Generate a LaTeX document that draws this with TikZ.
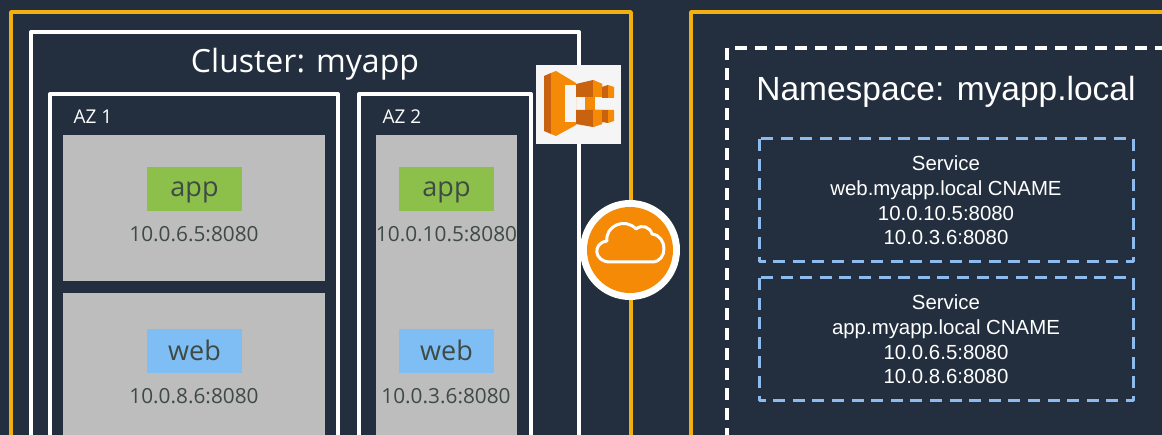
\documentclass[tikz,border=0pt]{standalone}
\usepackage{fontspec}
\setmainfont{Liberation Sans}
\newfontfamily\emberfont{Open Sans}
\definecolor{slatebg}{HTML}{232F3E}
\definecolor{framegold}{HTML}{F2B010}
\definecolor{boxgrey}{HTML}{BDBDBD}
\definecolor{appgreen}{HTML}{8CC04B}
\definecolor{webblue}{HTML}{7FBDF5}
\definecolor{labelgrey}{HTML}{3F4A45}
\definecolor{awsorange}{HTML}{F58A07}
\definecolor{awsdark}{HTML}{C8620F}
\definecolor{dashblue}{HTML}{8DBBEE}
\definecolor{iconbg}{HTML}{F5F5F5}
\tikzset{
  goldframe/.style={draw=framegold, line width=3.5pt},
  whiteframe/.style={draw=white, line width=4pt},
  hostbox/.style={fill=boxgrey},
  tagbox/.style={minimum width=95pt, minimum height=44pt, inner sep=0pt, text height=19.5pt, text depth=4.5pt, font=\emberfont\fontsize{27}{27}\selectfont, text=labelgrey},
  webtag/.style={tagbox, fill=webblue, text height=21.5pt, text depth=2.5pt},
  addr/.style={font=\emberfont\fontsize{20.8}{20.8}\selectfont, text=labelgrey},
  azlabel/.style={font=\emberfont\fontsize{19}{19}\selectfont, text=white},
  svctext/.style={align=center, font=\fontsize{20.4}{24.8}\selectfont, text=white},
  nsdash/.style={draw=white, line width=3.5pt, dash pattern=on 12pt off 8pt},
  svcdash/.style={draw=dashblue, line width=3pt, dash pattern=on 12pt off 7.6pt},
}
\begin{document}
\begin{tikzpicture}[line join=round, x=1pt, y=-1pt]
  \useasboundingbox (0,0) rectangle (1162,435);
  \clip (0,0) rectangle (1162,435);
  \fill[slatebg] (0,0) rectangle (1162,435);

  % left side
  \draw[goldframe] (11,500) -- (11,12) -- (631,12) -- (631,500);
  \draw[whiteframe] (31,500) -- (31,32) -- (579,32) -- (579,500);
  \node[font=\emberfont\fontsize{32}{32}\selectfont, text=white] (clustertitle) at (305,64) {Cluster: myapp};

  \draw[whiteframe] (50,500) -- (50,94) -- (338,94) -- (338,500);
  \draw[whiteframe] (359,500) -- (359,94) -- (531,94) -- (531,500);
  \node[azlabel, anchor=west] (azone) at (70,117) {AZ 1};
  \node[azlabel, anchor=west] (aztwo) at (379,117) {AZ 2};

  \fill[hostbox] (63,135) rectangle (325,281);
  \fill[hostbox] (63,293) rectangle (325,500);
  \fill[hostbox] (376,135) rectangle (517,500);

  \node[tagbox, fill=appgreen] (appone) at (194.5,189) {app};
  \node[addr] (appaddrone) at (194,234) {10.0.6.5:8080};
  \node[webtag] (webone) at (194.5,351) {web};
  \node[addr] (webaddrone) at (194,396) {10.0.8.6:8080};
  \node[tagbox, fill=appgreen] (apptwo) at (446.5,189) {app};
  \node[addr] (appaddrtwo) at (446.5,234) {10.0.10.5:8080};
  \node[webtag] (webtwo) at (446.5,351) {web};
  \node[addr] (webaddrtwo) at (446,396) {10.0.3.6:8080};

  % ecs icon
  \fill[iconbg] (536,65) rectangle (621,144);
  \fill[awsdark] (544,76) -- (551,73) -- (551,134) -- (544,131) -- cycle;
  \fill[awsorange] (551,73) -- (556,71) -- (576,83) -- (576,125) -- (556,136) -- (551,134) -- cycle;
  \fill[iconbg] (565,85) -- (576,85) -- (576,122) -- (565,122) -- cycle;
  \fill[awsorange] (585,97) -- (595,97) -- (595,110) -- (585,110) -- cycle;
  \fill[awsdark] (576,84) -- (593,80) -- (602,84) -- (602,97) -- (576,97) -- cycle;
  \fill[awsorange] (593,80) -- (602,84) -- (602,97) -- (593,97) -- cycle;
  \fill[awsdark] (576,110) -- (602,110) -- (602,124) -- (593,127) -- (576,124) -- cycle;
  \fill[awsorange] (593,110) -- (602,110) -- (602,124) -- (593,127) -- cycle;
  \fill[awsdark] (602,87) -- (608,85) -- (608,98) -- (602,98) -- cycle;
  \fill[awsorange] (608,85) -- (614,87) -- (614,98) -- (608,98) -- cycle;
  \fill[awsdark] (602,110) -- (608,110) -- (608,123) -- (602,122) -- cycle;
  \fill[awsorange] (608,110) -- (614,110) -- (614,121) -- (608,123) -- cycle;

  % right side
  \draw[goldframe] (691,500) -- (691,12) -- (1170,12);
  \draw[nsdash] (727,500) -- (727,48) -- (1170,48);
  \node[font=\fontsize{33.5}{33.5}\selectfont, text=white] (nstitle) at (946,92) {Namespace: myapp.local};

  \draw[svcdash] (759,139) rectangle (1133,262);
  \draw[svcdash] (759,278) rectangle (1133,401);
  \node[svctext] (websvc) at (946,200.5) {Service\\web.myapp.local CNAME\\10.0.10.5:8080\\10.0.3.6:8080};
  \node[svctext] (appsvc) at (946,339.5) {Service\\app.myapp.local CNAME\\10.0.6.5:8080\\10.0.8.6:8080};

  % cloud map badge
  \fill[white] (630,250) circle (50);
  \fill[awsorange] (630,250) circle (43);
  \draw[white, line width=3pt] (610,262) .. controls (594,262) and (592,243) .. (607,241)
    .. controls (605,226) and (625,217) .. (636,229)
    .. controls (642,224) and (650,227) .. (652,234)
    .. controls (668,236) and (668,262) .. (652,262) -- cycle;
\end{tikzpicture}
\end{document}
